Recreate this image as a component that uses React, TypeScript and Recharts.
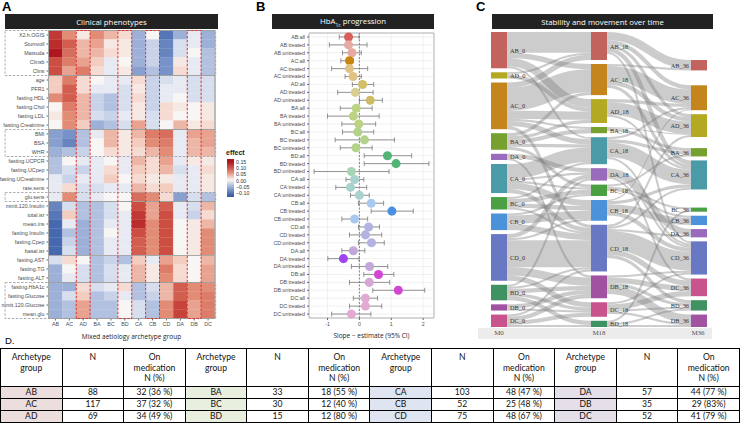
import React from 'react';
import {
  BarChart, Bar, XAxis, YAxis, Cell, ReferenceArea, ScatterChart, Scatter, ErrorBar,
  CartesianGrid, ReferenceLine, ZAxis, Sankey,
} from 'recharts';

// ---------- Panel A data ----------
const phenotypes = [
  'X2.h.OGIS', 'Stumvoll', 'Matsuda', 'Clinsb', 'Clins', 'age', 'PFR1', 'fasting.HDL',
  'fasting.Chol', 'fasting.LDL', 'fasting.Creatinine', 'BMI', 'BSA', 'WHR', 'fasting.UCPCR',
  'fasting.UCpep', 'fasting.UCreatinine', 'rate.sens', 'glu.sens', 'mmtt.120.Insulin',
  'total.isr', 'mean.ins', 'fasting.Insulin', 'fasting.Cpep', 'basal.isr', 'fasting.AST',
  'fasting.TG', 'fasting.ALT', 'fasting.HbA1c', 'fasting.Glucose', 'mmtt.120.Glucose', 'mean.glu',
];
const archetypes = ['AB', 'AC', 'AD', 'BA', 'BC', 'BD', 'CA', 'CB', 'CD', 'DA', 'DB', 'DC'];
const effectMatrix = [
  [0.12, 0.06, 0.01, 0.06, 0.04, 0.02, -0.05, 0.0, -0.09, -0.05, -0.01, -0.05],
  [0.13, 0.09, 0.04, 0.05, 0.01, 0.01, -0.05, -0.03, -0.08, -0.02, -0.01, -0.05],
  [0.15, 0.08, 0.04, 0.04, 0.02, 0.01, -0.05, -0.03, -0.08, -0.02, 0.0, -0.04],
  [0.10, 0.07, 0.05, 0.03, -0.01, 0.0, -0.05, -0.03, -0.07, 0.01, -0.01, -0.04],
  [0.10, 0.05, 0.07, 0.02, -0.01, 0.01, -0.06, -0.04, -0.07, 0.02, -0.01, -0.04],
  [0.03, 0.07, 0.02, 0.0, -0.01, -0.01, 0.02, -0.03, -0.02, -0.01, -0.02, -0.02],
  [0.03, 0.09, 0.02, -0.01, -0.01, -0.02, 0.01, -0.03, -0.01, -0.01, -0.02, -0.02],
  [0.06, 0.09, 0.04, -0.03, -0.04, -0.02, 0.02, -0.03, -0.01, 0.0, -0.02, -0.02],
  [0.0, 0.07, 0.04, -0.03, -0.04, -0.02, 0.01, -0.03, 0.02, 0.01, 0.0, 0.01],
  [0.01, 0.06, 0.04, -0.02, -0.03, -0.01, 0.01, -0.02, 0.02, 0.0, 0.0, 0.01],
  [0.0, 0.06, 0.03, -0.05, -0.04, -0.02, 0.05, -0.02, 0.0, 0.04, 0.01, 0.02],
  [-0.06, -0.07, -0.04, -0.01, 0.04, 0.01, 0.04, 0.07, 0.08, -0.01, 0.05, 0.05],
  [-0.06, -0.08, -0.04, 0.0, 0.04, 0.01, 0.03, 0.06, 0.07, -0.01, 0.04, 0.05],
  [-0.05, -0.04, -0.03, 0.0, 0.02, 0.01, 0.02, 0.04, 0.06, -0.01, 0.04, 0.04],
  [-0.04, 0.0, -0.01, -0.01, 0.0, -0.01, 0.04, 0.02, 0.05, -0.01, 0.01, 0.01],
  [-0.04, -0.02, -0.03, -0.01, 0.02, -0.01, 0.03, 0.02, 0.04, -0.02, -0.01, 0.02],
  [-0.01, -0.03, -0.01, -0.01, 0.03, 0.0, 0.02, 0.01, 0.01, -0.01, -0.01, 0.01],
  [-0.01, 0.02, -0.02, -0.02, -0.01, -0.01, 0.04, 0.02, 0.03, -0.01, -0.01, 0.01],
  [-0.01, 0.06, -0.02, -0.01, 0.0, 0.0, 0.08, 0.06, 0.02, -0.06, -0.02, -0.04],
  [-0.08, -0.02, -0.04, -0.04, -0.02, 0.0, 0.10, 0.05, 0.09, -0.01, -0.02, 0.04],
  [-0.09, 0.03, -0.04, -0.04, -0.02, -0.01, 0.12, 0.05, 0.10, -0.01, -0.03, 0.02],
  [-0.10, -0.01, -0.05, -0.04, -0.01, -0.01, 0.13, 0.06, 0.10, 0.0, 0.01, 0.04],
  [-0.10, -0.04, -0.05, -0.04, 0.0, -0.01, 0.10, 0.06, 0.10, 0.0, 0.01, 0.06],
  [-0.10, -0.03, -0.05, -0.04, -0.01, -0.01, 0.09, 0.06, 0.10, 0.0, 0.01, 0.06],
  [-0.10, -0.02, -0.05, -0.04, -0.01, -0.01, 0.09, 0.06, 0.10, 0.0, 0.01, 0.06],
  [-0.02, 0.02, 0.0, -0.04, -0.03, -0.04, 0.03, -0.01, 0.05, 0.03, 0.0, 0.04],
  [-0.05, 0.0, -0.02, -0.04, -0.02, -0.01, 0.04, 0.01, 0.07, 0.02, 0.0, 0.05],
  [-0.05, -0.01, -0.02, -0.04, -0.02, -0.01, 0.04, 0.01, 0.06, 0.02, 0.0, 0.05],
  [-0.05, -0.05, 0.02, -0.02, -0.01, 0.02, -0.04, -0.02, 0.04, 0.09, 0.06, 0.06],
  [-0.05, -0.02, 0.03, -0.04, -0.03, -0.01, -0.04, -0.03, 0.04, 0.09, 0.06, 0.07],
  [-0.05, -0.04, 0.05, -0.04, -0.04, 0.0, -0.02, -0.04, 0.06, 0.11, 0.05, 0.07],
  [-0.05, -0.04, 0.05, -0.04, -0.04, 0.0, -0.02, -0.04, 0.06, 0.11, 0.05, 0.07],
];
const legendTicks = ['0.15', '0.10', '0.05', '0.00', '\u22120.05', '\u22120.10'];
const dashedRowGroups = [['X2.h.OGIS', 'Clins'], ['BMI', 'WHR'], ['glu.sens', 'glu.sens'], ['fasting.HbA1c', 'mean.glu']];
const solidRowGroups = [['mmtt.120.Insulin', 'basal.isr'], ['age', 'fasting.Creatinine'], ['fasting.AST', 'fasting.ALT']];
const highlightedColumns = [2, 5, 7, 10];

// ---------- Panel B data ----------
const slopeLabels = [
  'AB:all', 'AB:treated', 'AB:untreated', 'AC:all', 'AC:treated', 'AC:untreated',
  'AD:all', 'AD:treated', 'AD:untreated', 'BA:all', 'BA:treated', 'BA:untreated',
  'BC:all', 'BC:treated', 'BC:untreated', 'BD:all', 'BD:treated', 'BD:untreated',
  'CA:all', 'CA:treated', 'CA:untreated', 'CB:all', 'CB:treated', 'CB:untreated',
  'CD:all', 'CD:treated', 'CD:untreated', 'DA:all', 'DA:treated', 'DA:untreated',
  'DB:all', 'DB:treated', 'DB:untreated', 'DC:all', 'DC:treated', 'DC:untreated',
];
const slopeEst = [
  -0.34, -0.34, -0.23, -0.31, -0.31, -0.2, 0.1, -0.13, 0.34, -0.1, -0.19, -0.02,
  -0.05, 0.16, -0.11, 0.88, 1.15, -0.25, -0.15, -0.28, 0.0, 0.37, 1.02, -0.15,
  0.29, 0.19, 0.38, -0.19, -0.5, 0.32, 0.6, 0.31, 1.22, 0.19, 0.19, -0.25,
];
const slopeLow = [
  -0.63, -0.94, -0.53, -0.58, -0.87, -0.45, -0.22, -0.68, 0.0, -0.6, -1.0, -0.55,
  -0.53, -0.76, -0.6, 0.15, 0.15, -1.42, -0.42, -0.74, -0.28, -0.03, 0.37, -0.55,
  -0.03, -0.31, -0.03, -0.55, -0.99, -0.25, 0.14, -0.31, 0.42, -0.19, -0.31, -0.87,
];
const slopeHigh = [
  -0.01, 0.24, 0.06, -0.19, 0.26, 0.06, 0.45, 0.43, 0.72, 0.4, 0.62, 0.51,
  0.45, 1.1, 0.4, 1.64, 2.18, 0.93, 0.14, 0.23, 0.31, 0.76, 1.69, 0.26,
  0.63, 0.7, 0.78, 0.17, -0.01, 0.89, 1.08, 0.95, 2.05, 0.57, 0.7, 0.36,
];
const slopeColors = [
  '#d8605a', '#e6aaa2', '#e6aaa2', '#c5850f', '#e2c282', '#e2c282',
  '#d2bf6a', '#dacd92', '#cfbb66', '#bcd383', '#bcd383', '#bcd383',
  '#b3d38a', '#b3d38a', '#b3d38a', '#52b476', '#52b476', '#a6d6b1',
  '#a9d2cf', '#a9d2cf', '#a9d2cf', '#a9c8f0', '#4a8fe4', '#a9c8f0',
  '#b3b3e2', '#b3b3e2', '#b3b3e2', '#c2a8da', '#a044f0', '#c2a8da',
  '#d147d3', '#d5a5d5', '#d147d3', '#e2a9d2', '#e2a9d2', '#e2a9d2',
];

// ---------- Panel C data ----------
const m0Nodes = ['AB_0', 'AD_0', 'AC_0', 'BA_0', 'DA_0', 'CA_0', 'BC_0', 'CB_0', 'CD_0', 'BD_0', 'DB_0', 'DC_0'];
const m18Nodes = ['AB_18', 'AC_18', 'AD_18', 'BA_18', 'CA_18', 'DA_18', 'BC_18', 'CB_18', 'CD_18', 'DB_18', 'DC_18', 'BD_18'];
const m36Nodes = ['AB_36', 'AC_36', 'AD_36', 'BA_36', 'CA_36', 'BC_36', 'CB_36', 'DA_36', 'CD_36', 'DC_36', 'BD_36', 'DB_36'];
const flows0to18: [string, string, number][] = [
  ['AB_0', 'AB_18', 20], ['AB_0', 'AC_18', 5], ['AB_0', 'AD_18', 8], ['AB_0', 'CA_18', 2],
  ['AD_0', 'AB_18', 2], ['AD_0', 'AD_18', 4],
  ['AC_0', 'AB_18', 5], ['AC_0', 'AC_18', 22], ['AC_0', 'AD_18', 8], ['AC_0', 'BA_18', 2], ['AC_0', 'CA_18', 5], ['AC_0', 'CD_18', 3],
  ['BA_0', 'AC_18', 3], ['BA_0', 'AD_18', 3], ['BA_0', 'BA_18', 4], ['BA_0', 'CA_18', 3], ['BA_0', 'BC_18', 3],
  ['DA_0', 'DA_18', 4], ['DA_0', 'DB_18', 2],
  ['CA_0', 'CA_18', 14], ['CA_0', 'DA_18', 2], ['CA_0', 'BC_18', 2], ['CA_0', 'CB_18', 6], ['CA_0', 'CD_18', 4],
  ['BC_0', 'CA_18', 2], ['BC_0', 'BC_18', 4], ['BC_0', 'CB_18', 4], ['BC_0', 'CD_18', 2],
  ['CB_0', 'BC_18', 2], ['CB_0', 'CB_18', 8], ['CB_0', 'CD_18', 6],
  ['CD_0', 'DA_18', 4], ['CD_0', 'CB_18', 2], ['CD_0', 'CD_18', 26], ['CD_0', 'DB_18', 8], ['CD_0', 'DC_18', 5],
  ['BD_0', 'DA_18', 2], ['BD_0', 'CD_18', 2], ['BD_0', 'DB_18', 4], ['BD_0', 'DC_18', 3], ['BD_0', 'BD_18', 4],
  ['DB_0', 'DB_18', 4], ['DB_0', 'DC_18', 2],
  ['DC_0', 'CD_18', 2], ['DC_0', 'DB_18', 4], ['DC_0', 'DC_18', 4], ['DC_0', 'BD_18', 2],
];
const flows18to36: [string, string, number][] = [
  ['AB_18', 'AB_36', 8], ['AB_18', 'AC_36', 4], ['AB_18', 'AD_36', 3], ['AB_18', 'CA_36', 4], ['AB_18', 'CD_36', 2],
  ['AC_18', 'AB_36', 2], ['AC_18', 'AC_36', 14], ['AC_18', 'AD_36', 4], ['AC_18', 'CA_36', 3],
  ['AD_18', 'AC_36', 3], ['AD_18', 'AD_36', 12], ['AD_18', 'CA_36', 2],
  ['BA_18', 'AD_36', 1], ['BA_18', 'BA_36', 3],
  ['CA_18', 'AC_36', 2], ['CA_18', 'BA_36', 3], ['CA_18', 'CA_36', 14], ['CA_18', 'CD_36', 2],
  ['DA_18', 'DA_36', 6], ['DA_18', 'CD_36', 2], ['DA_18', 'DC_36', 2],
  ['BC_18', 'BA_36', 2], ['BC_18', 'BC_36', 2], ['BC_18', 'CB_36', 2],
  ['CB_18', 'AC_36', 1], ['CB_18', 'CA_36', 3], ['CB_18', 'CB_36', 7], ['CB_18', 'CD_36', 4],
  ['CD_18', 'AD_36', 2], ['CD_18', 'CA_36', 2], ['CD_18', 'DA_36', 2], ['CD_18', 'CD_36', 18], ['CD_18', 'DC_36', 5], ['CD_18', 'BD_36', 3],
  ['DB_18', 'CD_36', 2], ['DB_18', 'DC_36', 5], ['DB_18', 'BD_36', 3], ['DB_18', 'DB_36', 8],
  ['DC_18', 'CD_36', 2], ['DC_18', 'DC_36', 5], ['DC_18', 'BD_36', 2], ['DC_18', 'DB_36', 2],
  ['BD_18', 'BC_36', 2], ['BD_18', 'BD_36', 2], ['BD_18', 'DB_36', 2],
];
const timepoints = ['M0', 'M18', 'M36'];

// ---------- Panel D data ----------
const tableGroupNames = [['AB', 'AC', 'AD'], ['BA', 'BC', 'BD'], ['CA', 'CB', 'CD'], ['DA', 'DB', 'DC']];
const tableN = [[88, 117, 69], [33, 30, 15], [103, 52, 75], [57, 35, 52]];
const tableOnMed = [
  ['32 (36 %)', '37 (32 %)', '34 (49 %)'],
  ['18 (55 %)', '12 (40 %)', '12 (80 %)'],
  ['48 (47 %)', '25 (48 %)', '48 (67 %)'],
  ['44 (77 %)', '29 (83%)', '41 (79 %)'],
];

// ---------- styles ----------
const SANS = "'Open Sans', 'Liberation Sans', sans-serif";
const SERIF = "'Liberation Serif', 'DejaVu Serif', serif";
const groupBg = ['#eddede', '#e9efdf', '#dee4f0', '#e5dfe9'];
const nodeColors: Record<string, string> = {
  AB: '#c2635d', AD: '#b3a922', AC: '#c4861c', BA: '#76a12e', DA: '#9a6bbd', CA: '#4a9aa7',
  BC: '#4aa043', CB: '#4b92da', CD: '#6878c2', BD: '#3f9262', DB: '#a153a2', DC: '#c9538c',
};

const lerp = (a: number[], b: number[], t: number) =>
  `rgb(${a.map((x, i) => Math.round(x + (b[i] - x) * t)).join(',')})`;
const redStops: [number, number[]][] = [[0, [248, 246, 245]], [0.03, [243, 205, 192]], [0.06, [226, 140, 118]], [0.1, [204, 78, 66]], [0.15, [176, 22, 30]]];
const blueStops: [number, number[]][] = [[0, [246, 246, 248]], [0.03, [200, 210, 233]], [0.06, [136, 160, 208]], [0.1, [70, 104, 174]], [0.13, [56, 88, 160]]];
const interp = (stops: [number, number[]][], v: number) => {
  for (let k = 1; k < stops.length; k++) {
    if (v <= stops[k][0]) {
      const t = (v - stops[k - 1][0]) / (stops[k][0] - stops[k - 1][0]);
      return lerp(stops[k - 1][1], stops[k][1], t);
    }
  }
  return lerp(stops[stops.length - 1][1], stops[stops.length - 1][1], 0);
};
const heatColor = (v: number) => (v >= 0 ? interp(redStops, v) : interp(blueStops, -v));

const heatData = phenotypes.map((name) => {
  const row: Record<string, any> = { name };
  archetypes.forEach((_, j) => { row[`c${j}`] = 1; });
  return row;
});

const slopeData = slopeLabels.map((label, i) => ({
  label,
  est: slopeEst[i],
  ci: [slopeEst[i] - slopeLow[i], slopeHigh[i] - slopeEst[i]],
}));

const allNodes = [...m0Nodes, ...m18Nodes, ...m36Nodes];
const sankeyData = {
  nodes: allNodes.map((name) => ({ name })),
  links: [...flows0to18, ...flows18to36].map(([s, t, v]) => ({
    source: allNodes.indexOf(s), target: allNodes.indexOf(t), value: v,
  })),
};

const TitleBar = ({ left, width, children }: any) => (
  <div style={{
    position: 'absolute', left, top: 14, width, height: 15, background: '#222', color: '#fff',
    fontFamily: SANS, fontSize: 7.8, display: 'flex', alignItems: 'center', justifyContent: 'center',
  }}>{children}</div>
);

const PanelLetter = ({ left, children }: any) => (
  <div style={{ position: 'absolute', left, top: -1, fontFamily: "'Liberation Sans', Arial, sans-serif", fontWeight: 700, fontSize: 13, color: '#000' }}>{children}</div>
);

const SankeyNode = (props: any) => {
  const { x, y, width, height, payload } = props;
  const name: string = payload.name;
  const fill = nodeColors[name.split('_')[0]];
  const right = payload.depth < 2;
  return (
    <g>
      <rect x={x} y={y} width={width} height={height} fill={fill} />
      <text x={right ? x + width + 3 : x - 2} y={y + height / 2} textAnchor={right ? 'start' : 'end'}
        dominantBaseline="central" fontSize={6.3} fontFamily={SERIF} fill="#333">{name}</text>
    </g>
  );
};

const SankeyLink = (props: any) => {
  const { sourceX, sourceY, sourceControlX, targetX, targetY, targetControlX, linkWidth } = props;
  return (
    <path d={`M${sourceX},${sourceY} C${sourceControlX},${sourceY} ${targetControlX},${targetY} ${targetX},${targetY}`}
      fill="none" stroke="#808080" strokeOpacity={0.4} strokeWidth={linkWidth} />
  );
};

const tick6 = { fontSize: 5.3, fill: '#4d4d4d', fontFamily: "'Liberation Sans', sans-serif" };
const heatMargin = { top: 30.5, right: 35, left: 0, bottom: 14.5 };
const cellBorder = { border: '1px solid #000', textAlign: 'center' as const, padding: 0 };

export default function App() {
  return (
    <div style={{ position: 'absolute', left: 0, top: 0, width: 740, height: 435, background: '#fff', overflow: 'hidden' }}>
      {/* Panel A */}
      <PanelLetter left={2}>A</PanelLetter>
      <TitleBar left={5} width={213}>Clinical phenotypes</TitleBar>
      <div style={{ position: 'absolute', left: 0, top: 0 }}>
        <BarChart width={250} height={345} data={heatData} layout="vertical" barCategoryGap={0} barGap={0}
          margin={heatMargin}>
          <XAxis type="number" domain={[0, 12]} ticks={archetypes.map((_, j) => j + 0.5)}
            tickFormatter={(v: number) => archetypes[Math.floor(v)]} tickSize={2} axisLine={false}
            tick={tick6} height={12} />
          <YAxis type="category" dataKey="name" width={48.5} interval={0} tickSize={2} axisLine={false}
            tick={tick6} />
          {archetypes.map((a, j) => (
            <Bar key={a} dataKey={`c${j}`} stackId="h" isAnimationActive={false}>
              {phenotypes.map((p, i) => (
                <Cell key={p} fill={heatColor(effectMatrix[i][j])} stroke={heatColor(effectMatrix[i][j])} strokeWidth={0.3} />
              ))}
            </Bar>
          ))}
        </BarChart>
      </div>
      {/* overlay with outline boxes, same scales */}
      <div style={{ position: 'absolute', left: 0, top: 0, pointerEvents: 'none' }}>
        <BarChart width={250} height={345} data={heatData} layout="vertical" barCategoryGap={0} barGap={0}
          margin={heatMargin}>
          <XAxis type="number" domain={[0, 12]} tick={false} tickLine={false} axisLine={false} height={12} />
          <YAxis type="category" dataKey="name" width={48.5} tick={false} tickLine={false} axisLine={false} />
          <Bar dataKey="c0" fill="none" fillOpacity={0} isAnimationActive={false} />
          <ReferenceArea x1={0} x2={12} fill="none" stroke="#a8a8a8" strokeWidth={1} ifOverflow="visible" />
          {solidRowGroups.map(([a, b]) => (
            <ReferenceArea key={a} x1={0} x2={12} y1={a} y2={b} fill="none" stroke="#a8a8a8" strokeWidth={1} ifOverflow="visible" />
          ))}
          {dashedRowGroups.map(([a, b]) => (
            <ReferenceArea key={a} x1={-3.13} x2={12.05} y1={a} y2={b} fill="none" stroke="#999" strokeWidth={0.8}
              strokeDasharray="2.5 1.5" ifOverflow="visible" />
          ))}
          {highlightedColumns.map((j) => (
            <ReferenceArea key={j} x1={j} x2={j + 1} fill="none" stroke="#e0312b" strokeWidth={1}
              strokeDasharray="2.5 1.5" ifOverflow="visible" />
          ))}
        </BarChart>
      </div>
      <div style={{ position: 'absolute', left: 48, width: 167, top: 332, textAlign: 'center', fontFamily: SANS, fontSize: 6.5, color: '#222' }}>
        Mixed aetiology archetype group
      </div>
      {/* legend */}
      <div style={{ position: 'absolute', left: 226, top: 149, fontFamily: "'Liberation Sans', sans-serif", fontWeight: 700, fontSize: 7, color: '#222' }}>effect</div>
      <div style={{
        position: 'absolute', left: 227, top: 159, width: 7, height: 38,
        background: 'linear-gradient(to bottom, rgb(170,20,28) 0%, rgb(176,22,30) 8%, rgb(226,140,118) 35%, rgb(248,246,245) 55%, rgb(136,160,208) 78%, rgb(62,96,168) 96%, rgb(56,88,160) 100%)',
      }} />
      {legendTicks.map((t, i) => (
        <div key={t} style={{ position: 'absolute', left: 236, top: 159 + i * 6.2, fontFamily: "'Liberation Sans', sans-serif", fontSize: 5.3, color: '#333', lineHeight: '6px' }}>{t}</div>
      ))}

      {/* Panel B */}
      <PanelLetter left={256}>B</PanelLetter>
      <TitleBar left={272} width={162}>
        <span>HbA<sub style={{ fontSize: 5, verticalAlign: 'sub' }}>1c</sub> progression</span>
      </TitleBar>
      <div style={{ position: 'absolute', left: 240, top: 0 }}>
        <ScatterChart width={200} height={345} margin={{ top: 33, right: 6, bottom: 17, left: 0 }}>
          <CartesianGrid stroke="#ebebeb" strokeWidth={0.7} />
          <XAxis type="number" dataKey="est" domain={[-1.58, 2.34]} ticks={[-1, 0, 1, 2]} allowDataOverflow
            tickSize={2} axisLine={false} tick={tick6} height={10} />
          <YAxis type="category" dataKey="label" reversed width={69} interval={0} tickSize={2} axisLine={false}
            tick={tick6} />
          <ZAxis range={[26, 26]} />
          <ReferenceArea x1={-1.58} x2={2.34} fill="none" stroke="#b5b5b5" strokeWidth={1} ifOverflow="visible" />
          <ReferenceLine x={0} stroke="#555" strokeDasharray="2 1.5" strokeWidth={0.7} />
          <Scatter data={slopeData} isAnimationActive={false}>
            {slopeData.map((d, i) => <Cell key={d.label} fill={slopeColors[i]} />)}
            <ErrorBar dataKey="ci" direction="x" width={2.5} stroke="#7a7a7a" strokeWidth={0.8} />
          </Scatter>
        </ScatterChart>
      </div>
      <div style={{ position: 'absolute', left: 309, width: 125, top: 331, textAlign: 'center', fontFamily: SANS, fontSize: 6.5, color: '#222' }}>
        Slope − estimate (95% CI)
      </div>

      {/* Panel C */}
      <PanelLetter left={476}>C</PanelLetter>
      <TitleBar left={492} width={221}>Stability and movement over time</TitleBar>
      <div style={{ position: 'absolute', left: 478, top: 328, width: 234, height: 11, background: '#ececec' }} />
      {timepoints.map((t, i) => (
        <div key={t} style={{ position: 'absolute', left: [491, 591, 690][i], top: 329, width: 16, textAlign: 'center', fontFamily: SERIF, fontSize: 7, color: '#555' }}>{t}</div>
      ))}
      <div style={{ position: 'absolute', left: 478, top: 0 }}>
        <Sankey width={240} height={345} data={sankeyData} nodeWidth={16} nodePadding={4}
          margin={{ top: 32, right: 11, bottom: 18, left: 13 }} sort={false} iterations={32}
          node={SankeyNode} link={SankeyLink} />
      </div>

      {/* Panel D */}
      <div style={{ position: 'absolute', left: 5, top: 335, fontFamily: "'Liberation Sans', sans-serif", fontSize: 9.5, color: '#000' }}>D.</div>
      <table style={{
        position: 'absolute', left: 0, top: 348, width: 740, borderCollapse: 'collapse', tableLayout: 'fixed',
        fontFamily: "Lato, 'Open Sans', sans-serif", fontSize: 8.6, color: '#111',
      }}>
        <tbody>
          <tr style={{ height: 38 }}>
            {tableGroupNames.map((_, g) => (
              <React.Fragment key={g}>
                <td style={{ ...cellBorder, verticalAlign: 'top', paddingTop: 3, lineHeight: '10.5px' }}>Archetype<br />group</td>
                <td style={{ ...cellBorder, verticalAlign: 'top', paddingTop: 3, lineHeight: '10.5px' }}>N</td>
                <td style={{ ...cellBorder, verticalAlign: 'top', paddingTop: 3, lineHeight: '10.5px' }}>On<br />medication<br />N (%)</td>
              </React.Fragment>
            ))}
          </tr>
          {[0, 1, 2].map((r) => (
            <tr key={r} style={{ height: 12 }}>
              {tableGroupNames.map((names, g) => (
                <React.Fragment key={g}>
                  <td style={{ ...cellBorder, lineHeight: '11px', background: groupBg[g] }}>{names[r]}</td>
                  <td style={{ ...cellBorder, lineHeight: '11px' }}>{tableN[g][r]}</td>
                  <td style={{ ...cellBorder, lineHeight: '11px' }}>{tableOnMed[g][r]}</td>
                </React.Fragment>
              ))}
            </tr>
          ))}
        </tbody>
      </table>
    </div>
  );
}
